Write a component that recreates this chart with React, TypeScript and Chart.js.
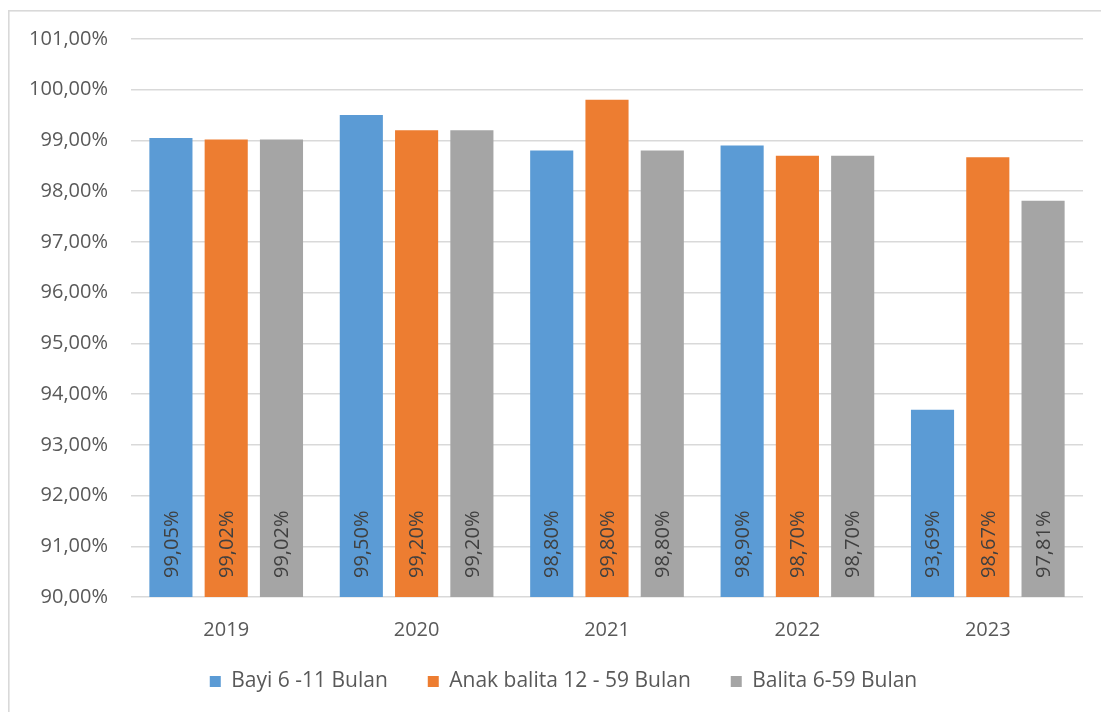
import React, { useEffect, useRef } from "react";
import { Chart, registerables } from "chart.js";

Chart.register(...registerables);

const categories = ["2019", "2020", "2021", "2022", "2023"];
const seriesNames = ["Bayi 6 -11 Bulan", "Anak balita 12 - 59 Bulan", "Balita 6-59 Bulan"];
const bayi = [99.05, 99.5, 98.8, 98.9, 93.69];
const anakBalita = [99.02, 99.2, 99.8, 98.7, 98.67];
const balita = [99.02, 99.2, 98.8, 98.7, 97.81];
const colors = ["#5B9BD5", "#ED7D31", "#A5A5A5"];
const yMin = 90;
const yMax = 101;
const yStep = 1;

const FONT = "'Open Sans', 'Liberation Sans', sans-serif";

const fmt = (v: number) => v.toFixed(2).replace(".", ",") + "%";

const borderPlugin = {
  id: "outerBorder",
  beforeDraw(chart: any) {
    const ctx = chart.ctx;
    ctx.save();
    ctx.fillStyle = "#ffffff";
    ctx.fillRect(0, 0, chart.width, chart.height);
    ctx.fillStyle = "#d9d9d9";
    ctx.fillRect(8, 10, 1.6, chart.height);
    ctx.fillRect(8, 10, chart.width, 1.6);
    ctx.restore();
  },
};

const legendShiftPlugin = {
  id: "legendShift",
  afterLayout(chart: any) {
    const lg = chart.legend;
    if (lg) {
      lg.top -= 10;
      lg.bottom -= 10;
      lg.left += 22;
      lg.right += 22;
    }
  },
};

const barLabelPlugin = {
  id: "barLabels",
  afterDatasetsDraw(chart: any) {
    const ctx = chart.ctx;
    const bottom = chart.chartArea.bottom;
    ctx.save();
    ctx.font = `20px ${FONT}`;
    ctx.fillStyle = "#404040";
    ctx.textAlign = "left";
    ctx.textBaseline = "middle";
    chart.data.datasets.forEach((ds: any, di: number) => {
      const meta = chart.getDatasetMeta(di);
      meta.data.forEach((bar: any, i: number) => {
        ctx.save();
        ctx.translate(bar.x, bottom - 19);
        ctx.rotate(-Math.PI / 2);
        ctx.fillText(fmt(ds.data[i]), 0, 1);
        ctx.restore();
      });
    });
    ctx.restore();
  },
};

export default function App() {
  const ref = useRef<HTMLCanvasElement>(null);
  useEffect(() => {
    document.body.style.margin = "0";
    const chart = new Chart(ref.current as HTMLCanvasElement, {
      type: "bar",
      data: {
        labels: categories,
        datasets: [bayi, anakBalita, balita].map((d, i) => ({
          label: seriesNames[i],
          data: d,
          backgroundColor: colors[i],
          borderWidth: 0,
          categoryPercentage: 0.871,
          barPercentage: 0.78,
        })),
      },
      options: {
        responsive: false,
        animation: false,
        layout: { padding: { top: 39, right: 18, bottom: 0, left: 0 } },
        plugins: {
          tooltip: { enabled: false },
          legend: {
            position: "bottom",
            labels: {
              boxWidth: 11,
              boxHeight: 11,
              padding: 40,
              color: "#595959",
              font: { family: FONT, size: 21 },
            },
          },
        },
        scales: {
          x: {
            grid: { display: false, drawTicks: false },
            border: { display: false },
            ticks: { color: "#595959", font: { family: FONT, size: 20 }, padding: 21 },
            afterFit(s: any) {
              s.height = 44;
            },
          },
          y: {
            min: yMin,
            max: yMax,
            grid: { color: "#d9d9d9", lineWidth: 1.5, drawTicks: false },
            border: { display: false },
            ticks: {
              stepSize: yStep,
              padding: 23,
              color: "#595959",
              font: { family: FONT, size: 20 },
              callback: (v: any) => fmt(Number(v)),
            },
            afterFit(s: any) {
              s.width = 131;
            },
          },
        },
      },
      plugins: [borderPlugin, legendShiftPlugin, barLabelPlugin],
    });
    return () => chart.destroy();
  }, []);
  return (
    <div style={{ width: 1101, height: 712 }}>
      <canvas ref={ref} width={1101} height={712} />
    </div>
  );
}
